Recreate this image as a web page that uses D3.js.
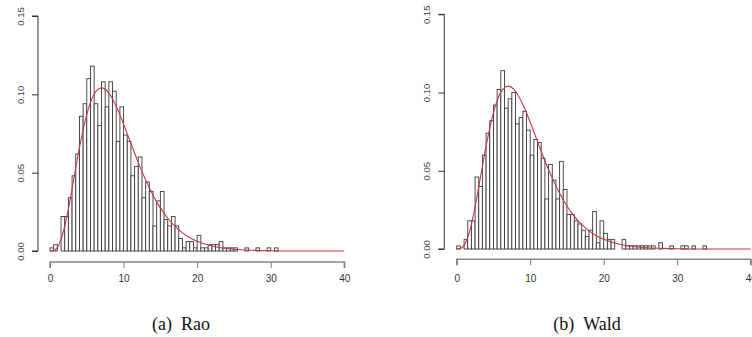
<!DOCTYPE html>
<html>
<head>
<meta charset="utf-8">
<script src="https://cdn.jsdelivr.net/npm/d3@7"></script>
<style>
  html, body { margin: 0; padding: 0; background: #fff; }
  svg { display: block; }
</style>
</head>
<body>
<div class="chart_wrapper"></div>
<script>
// histogram bins are 0.5 wide, starting at 0
const binWidth = 0.5

// density of each bin
const raoDensity = [
  0.002, 0.004, 0.000, 0.022, 0.022, 0.034, 0.048, 0.062, 0.086, 0.094,
  0.110, 0.118, 0.094, 0.080, 0.108, 0.092, 0.108, 0.102, 0.070, 0.092,
  0.074, 0.070, 0.048, 0.054, 0.060, 0.034, 0.044, 0.038, 0.016, 0.032,
  0.038, 0.020, 0.016, 0.022, 0.016, 0.008, 0.002, 0.006, 0.006, 0.002,
  0.010, 0.002, 0.002, 0.004, 0.004, 0.004, 0.006, 0.002, 0.002, 0.002,
  0.002, 0.000, 0.000, 0.002, 0.000, 0.000, 0.002, 0.000, 0.000, 0.002,
  0.000, 0.002
]

const waldDensity = [
  0.002, 0.000, 0.006, 0.018, 0.018, 0.046, 0.040, 0.060, 0.074, 0.082,
  0.092, 0.102, 0.114, 0.090, 0.096, 0.100, 0.080, 0.084, 0.088, 0.076,
  0.060, 0.070, 0.068, 0.058, 0.032, 0.054, 0.044, 0.032, 0.056, 0.038,
  0.022, 0.022, 0.018, 0.016, 0.012, 0.008, 0.012, 0.024, 0.004, 0.018,
  0.010, 0.006, 0.006, 0.000, 0.000, 0.006, 0.002, 0.002, 0.002, 0.002,
  0.002, 0.002, 0.002, 0.002, 0.000, 0.004, 0.000, 0.000, 0.002, 0.000,
  0.000, 0.002, 0.002, 0.000, 0.002, 0.000, 0.000, 0.002
]

// red reference curve (same in both panels)
const curveX = [0, 0.5, 1, 1.5, 2, 2.5, 3, 3.5, 4, 5, 6, 7, 8, 9, 10, 11, 12, 13, 14, 15,
  16, 17, 18, 19, 20, 22, 24, 26, 28, 30, 34, 40]
const curveY = [0, 0.0003, 0.0023, 0.0074, 0.0158, 0.0269, 0.0397, 0.0530, 0.0658, 0.0872,
  0.1001, 0.1041, 0.1008, 0.0923, 0.0810, 0.0686, 0.0564, 0.0453, 0.0356, 0.0275,
  0.0209, 0.0157, 0.0116, 0.0085, 0.0062, 0.0032, 0.0016, 0.0008, 0.0004, 0.0002, 0.0000, 0.0000]

const xTicks = [0, 10, 20, 30, 40]
const yTicks = [0, 0.05, 0.10, 0.15]
const captions = ['(a)\u2002Rao', '(b)\u2002Wald']

const width = 752
const height = 337

const svg = d3.select('.chart_wrapper')
  .append('svg')
  .attr('width', width)
  .attr('height', height)
  .attr('viewBox', [0, 0, width, height])

svg.append('rect').attr('width', width).attr('height', height).attr('fill', '#fff')

const panels = [
  { density: raoDensity, caption: captions[0], xRange: [50, 344.3], yRange: [251, 16], yAxisX: 38, xAxisY: 262, capX: 181 },
  { density: waldDensity, caption: captions[1], xRange: [456.7, 750.7], yRange: [249, 14.3], yAxisX: 444.3, xAxisY: 259.3, capX: 587 }
]

function drawPanel(p) {
  const x = d3.scaleLinear().domain([0, 40]).range(p.xRange)
  const y = d3.scaleLinear().domain([0, 0.15]).range(p.yRange)
  const g = svg.append('g')

  // bars (empty bins still leave a flat outline on the baseline, like R)
  g.append('g')
    .selectAll('rect')
    .data(p.density)
    .join('rect')
    .attr('x', (d, i) => x(i * binWidth))
    .attr('y', d => y(d))
    .attr('width', x(binWidth) - x(0))
    .attr('height', d => y(0) - y(d))
    .attr('fill', '#fff')
    .attr('stroke', '#3a3a3a')
    .attr('stroke-width', 0.9)

  // curve
  const line = d3.line()
    .x(d => x(d[0]))
    .y(d => y(d[1]))
    .curve(d3.curveMonotoneX)
  g.append('path')
    .datum(curveX.map((v, i) => [v, curveY[i]]))
    .attr('d', line)
    .attr('fill', 'none')
    .attr('stroke', '#c8383c')
    .attr('stroke-width', 1.1)

  // y axis (R style, detached, rotated labels)
  const ya = g.append('g').attr('transform', `translate(${p.yAxisX},0)`)
    .call(d3.axisLeft(y).tickValues(yTicks).tickSize(6).tickFormat(d3.format('.2f')))
  ya.select('.domain').attr('stroke', '#333').attr('d', `M-6,${y(0)}H0V${y(0.15)}H-6`)
  ya.selectAll('.tick line').attr('stroke', '#333')
  ya.selectAll('.tick text')
    .attr('x', null).attr('dy', null)
    .attr('transform', 'translate(-14,0) rotate(-90)')
    .attr('text-anchor', 'middle')
    .attr('fill', '#444')
    .style('font', '9.5px "Liberation Sans", Arial, sans-serif')

  // x axis
  const xa = g.append('g').attr('transform', `translate(0,${p.xAxisY})`)
    .call(d3.axisBottom(x).tickValues(xTicks).tickSize(6).tickFormat(d3.format('d')))
  xa.select('.domain').attr('stroke', '#888').attr('stroke-width', 1.4)
    .attr('d', `M${x(0)},6V0H${x(40)}V6`)
  xa.selectAll('.tick line').attr('stroke', '#777')
  xa.selectAll('.tick text')
    .attr('y', null).attr('dy', null)
    .attr('transform', `translate(0,${282 - p.xAxisY})`)
    .attr('fill', '#333')
    .style('font', '10px "Liberation Sans", Arial, sans-serif')

  // caption
  svg.append('text')
    .attr('x', p.capX)
    .attr('y', 330)
    .attr('text-anchor', 'middle')
    .attr('fill', '#111')
    .style('font', '18px "Liberation Serif", "Times New Roman", serif')
    .text(p.caption)
}

panels.forEach(drawPanel)
</script>
</body>
</html>
